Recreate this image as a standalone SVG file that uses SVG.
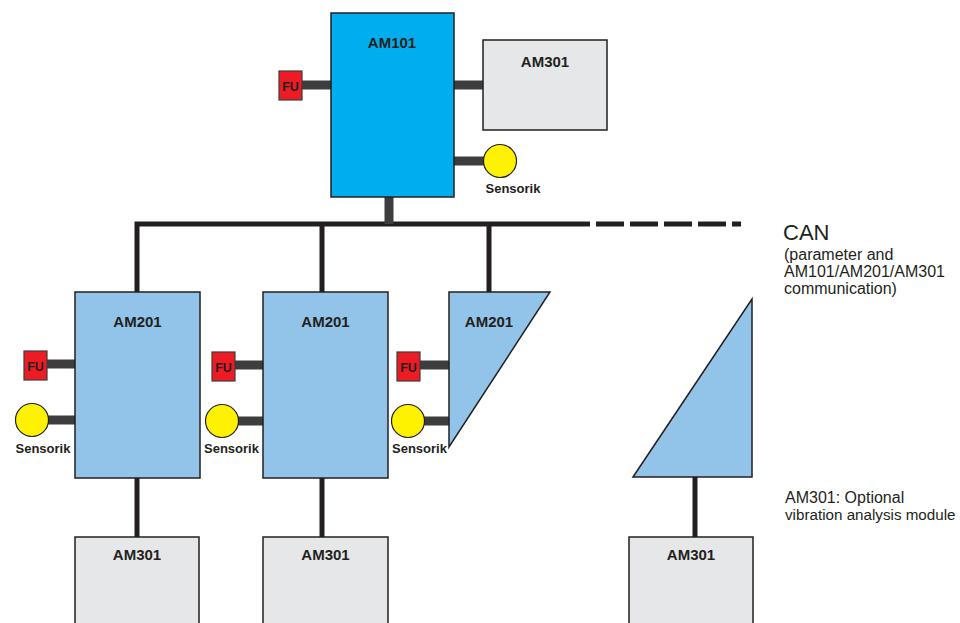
<svg xmlns="http://www.w3.org/2000/svg" width="960" height="623" viewBox="0 0 960 623">
<style>
.bus{stroke:#231f20;stroke-width:5;fill:none}
.link{stroke:#3d3d3d;stroke-width:9;fill:none}
.m101{fill:#00aeef;stroke:#231f20;stroke-width:1.5}
.m201{fill:#92c4e9;stroke:#231f20;stroke-width:1.5}
.m301{fill:#e6e7e8;stroke:#231f20;stroke-width:1.5}
.fu{fill:#ed1c24;stroke:#3d3d3d;stroke-width:1.2}
.sen{fill:#fff200;stroke:#231f20;stroke-width:1.2}
.lbl{font-family:"Liberation Sans",Arial,sans-serif;font-weight:bold;font-size:15px;fill:#231f20;text-anchor:middle}
.ful{font-family:"Liberation Sans",Arial,sans-serif;font-weight:bold;font-size:12.5px;fill:#231f20;text-anchor:middle}
.sl{font-family:"Liberation Sans",Arial,sans-serif;font-weight:bold;font-size:13px;fill:#231f20;text-anchor:middle}
.note{font-family:"Liberation Sans",Arial,sans-serif;font-size:16px;fill:#231f20}
</style>
<rect width="960" height="623" fill="#ffffff"/>
<g id="connectors">
<path class="bus" d="M137,292 V224 H590"/>
<path class="bus" d="M596,224 H741" stroke-dasharray="28 6"/>
<path class="bus" d="M322,224 V292"/>
<path class="bus" d="M489,224 V292"/>
<path class="link" d="M389,197 V224"/>
<path class="link" d="M302,85 H331"/>
<path class="link" d="M454,85 H483"/>
<path class="link" d="M454,161 H484"/>
<path class="link" d="M47,364 H75"/>
<path class="link" d="M48,420 H75"/>
<path class="link" d="M235,365 H263"/>
<path class="link" d="M238,421 H263"/>
<path class="link" d="M420,365 H449"/>
<path class="link" d="M424,421 H449"/>
<path class="bus" d="M137,478 V537"/>
<path class="bus" d="M322,478 V537"/>
<path class="bus" d="M695,477 V537"/>
</g>
<g id="am101">
<rect class="m101" x="331" y="13" width="123" height="184"/>
<text class="lbl" x="392" y="48">AM101</text>
</g>
<g id="am301-top">
<rect class="m301" x="483" y="40" width="124" height="90"/>
<text class="lbl" x="545" y="67">AM301</text>
</g>
<g id="fu-top">
<rect class="fu" x="279" y="71" width="23" height="29"/>
<text class="ful" x="290.5" y="90.5">FU</text>
</g>
<g id="sensorik-top">
<circle class="sen" cx="500" cy="161" r="16.5"/>
<text class="sl" x="513" y="193">Sensorik</text>
</g>
<g id="am201-1">
<rect class="m201" x="75" y="292" width="125" height="186"/>
<text class="lbl" x="137.5" y="327">AM201</text>
</g>
<g id="fu-1">
<rect class="fu" x="24" y="351" width="23" height="29"/>
<text class="ful" x="35.5" y="370.5">FU</text>
</g>
<g id="sensorik-1">
<circle class="sen" cx="32" cy="420" r="16.5"/>
<text class="sl" x="43" y="453">Sensorik</text>
</g>
<g id="am201-2">
<rect class="m201" x="263" y="292" width="125" height="186"/>
<text class="lbl" x="325.5" y="327">AM201</text>
</g>
<g id="fu-2">
<rect class="fu" x="212" y="352" width="23" height="29"/>
<text class="ful" x="223.5" y="371.5">FU</text>
</g>
<g id="sensorik-2">
<circle class="sen" cx="222" cy="421" r="16.5"/>
<text class="sl" x="231.5" y="453">Sensorik</text>
</g>
<g id="am201-3">
<path class="m201" d="M449,292 H550 L449,447 Z"/>
<text class="lbl" x="489" y="327">AM201</text>
</g>
<g id="fu-3">
<rect class="fu" x="397" y="352" width="23" height="29"/>
<text class="ful" x="408.5" y="371.5">FU</text>
</g>
<g id="sensorik-3">
<circle class="sen" cx="408" cy="421" r="16.5"/>
<text class="sl" x="419.5" y="453">Sensorik</text>
</g>
<g id="am201-4">
<path class="m201" d="M633,477 L752,299 V477 Z"/>
</g>
<g id="am301-1">
<rect class="m301" x="75" y="537" width="124" height="95"/>
<text class="lbl" x="137" y="560">AM301</text>
</g>
<g id="am301-2">
<rect class="m301" x="263" y="537" width="125" height="95"/>
<text class="lbl" x="325.5" y="560">AM301</text>
</g>
<g id="am301-3">
<rect class="m301" x="629" y="537" width="124" height="95"/>
<text class="lbl" x="691" y="560">AM301</text>
</g>
<g id="can-label">
<text class="note" x="783" y="240" style="font-size:22px">CAN</text>
<text class="note" x="784" y="260">(parameter and</text>
<text class="note" x="784" y="277">AM101/AM201/AM301</text>
<text class="note" x="784" y="294">communication)</text>
</g>
<g id="am301-note">
<text class="note" x="785" y="503">AM301: Optional</text>
<text class="note" x="785" y="520" style="font-size:15.2px">vibration analysis module</text>
</g>
</svg>
